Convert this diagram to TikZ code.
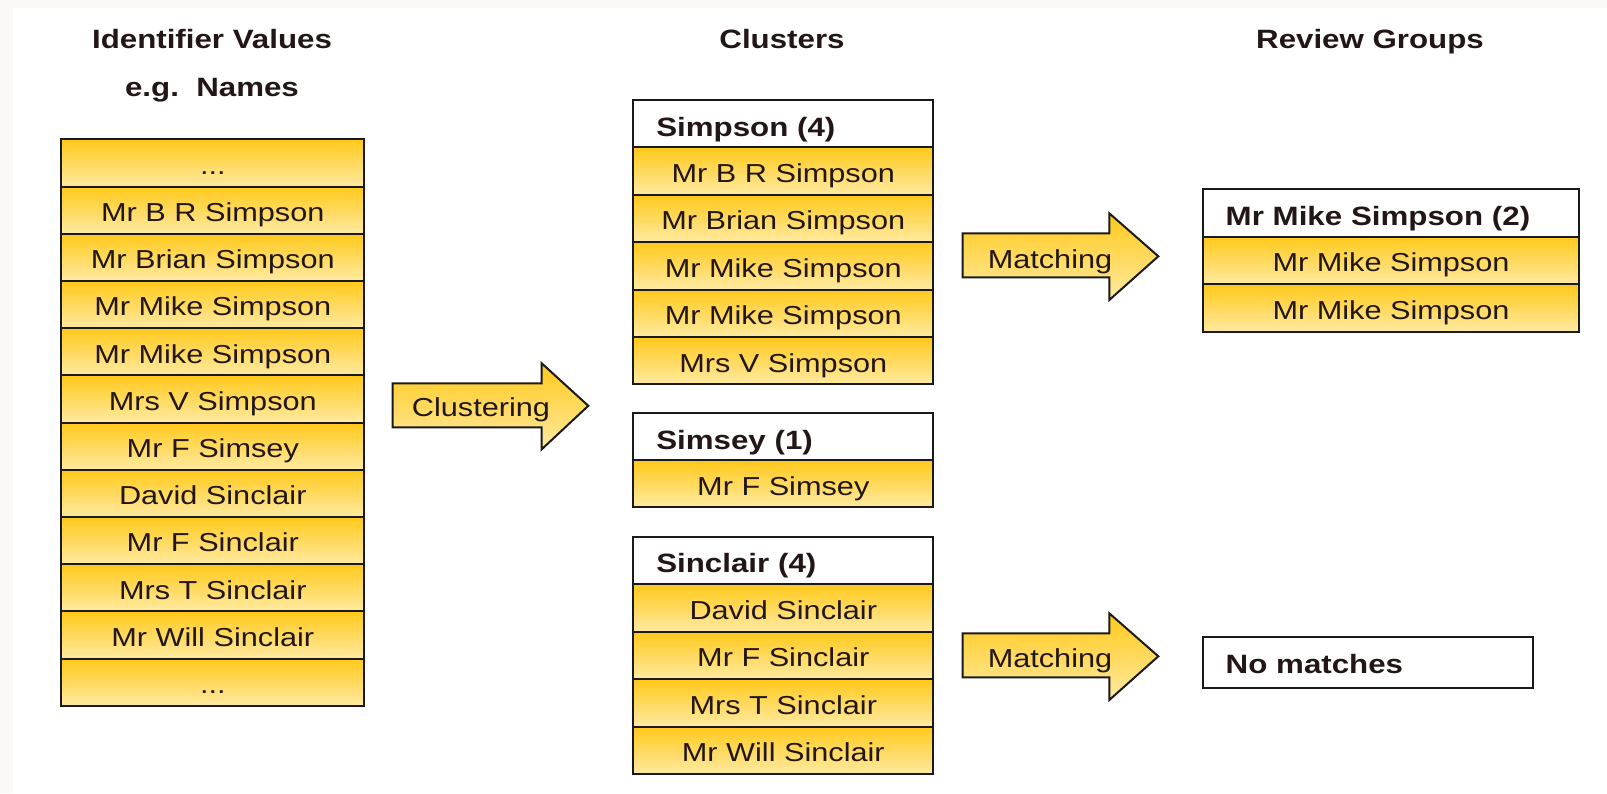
\documentclass[tikz,border=0pt]{standalone}
\usepackage{fontspec}
\setmainfont[FakeStretch=1.18]{Liberation Sans}
\definecolor{gtop}{HTML}{FFC91A}
\definecolor{gbot}{HTML}{FFEAA2}
\definecolor{edge}{HTML}{1A1A1A}
\definecolor{ink}{HTML}{231616}
\definecolor{bgstrip}{HTML}{FAF9F7}
\newcommand\rfont{\fontsize{26}{30}\selectfont}
\newcommand\bfont{\fontsize{26.5}{30}\selectfont\bfseries}
\begin{document}
\begin{tikzpicture}[x=1pt,y=-1pt,
  cell/.style={draw=edge,line width=2pt,top color=gtop,bottom color=gbot,inner sep=0pt,text height=22.6pt,text depth=0pt,font=\rfont,text=ink},
  head/.style={draw=edge,line width=2pt,fill=white,inner ysep=0pt,inner xsep=23pt,text height=24.6pt,text depth=0pt,align=left,font=\bfont,text=ink},
  title/.style={font=\bfont,text=ink,anchor=base},
  arr/.style={draw=edge,line width=2pt,top color=gtop,bottom color=gbot,line join=miter},
  lab/.style={font=\rfont,text=ink,anchor=base},
  colL/.style={cell,minimum width=303pt,minimum height=47.2pt},
  colC/.style={cell,minimum width=300pt,minimum height=47.4pt},
  colR/.style={cell,minimum width=376.6pt,minimum height=47.5pt}]
\useasboundingbox (0,0) rectangle (1607,793);
\fill[white] (0,0) rectangle (1607,793);
\fill[bgstrip] (0,0) rectangle (1607,7.5);
\fill[bgstrip] (0,0) rectangle (12.7,793);

% titles
\node[title] (t1) at (212,48) {Identifier Values};
\node[title] (t2) at (212,96) {e.g.\ \ Names};
\node[title] (t3) at (782,48) {Clusters};
\node[title] (t4) at (1370,48) {Review Groups};

% left column
\node[colL] (L0) at (212.8,162.9) {...};
\node[colL] (L1) at (212.8,210.1) {Mr B R Simpson};
\node[colL] (L2) at (212.8,257.3) {Mr Brian Simpson};
\node[colL] (L3) at (212.8,304.5) {Mr Mike Simpson};
\node[colL] (L4) at (212.8,351.7) {Mr Mike Simpson};
\node[colL] (L5) at (212.8,398.9) {Mrs V Simpson};
\node[colL] (L6) at (212.8,446.1) {Mr F Simsey};
\node[colL] (L7) at (212.8,493.3) {David Sinclair};
\node[colL] (L8) at (212.8,540.5) {Mr F Sinclair};
\node[colL] (L9) at (212.8,587.7) {Mrs T Sinclair};
\node[colL] (L10) at (212.8,634.9) {Mr Will Sinclair};
\node[colL] (L11) at (212.8,682.1) {...};

% Simpson cluster
\node[head,text width=254pt,minimum height=47.4pt] (S0) at (783.3,123.7) {Simpson (4)};
\node[colC] (S1) at (783.3,171.1) {Mr B R Simpson};
\node[colC] (S2) at (783.3,218.5) {Mr Brian Simpson};
\node[colC] (S3) at (783.3,265.9) {Mr Mike Simpson};
\node[colC] (S4) at (783.3,313.3) {Mr Mike Simpson};
\node[colC] (S5) at (783.3,360.7) {Mrs V Simpson};

% Simsey cluster
\node[head,text width=254pt,minimum height=47pt] (Y0) at (783.3,436.8) {Simsey (1)};
\node[colC,minimum height=47pt] (Y1) at (783.3,483.8) {Mr F Simsey};

% Sinclair cluster
\node[head,text width=254pt,minimum height=47.46pt] (N0) at (783.3,560.4) {Sinclair (4)};
\node[colC,minimum height=47.46pt] (N1) at (783.3,607.9) {David Sinclair};
\node[colC,minimum height=47.46pt] (N2) at (783.3,655.4) {Mr F Sinclair};
\node[colC,minimum height=47.46pt] (N3) at (783.3,702.8) {Mrs T Sinclair};
\node[colC,minimum height=47.46pt] (N4) at (783.3,750.3) {Mr Will Sinclair};

% review groups
\node[head,text width=330.6pt,minimum height=47.5pt] (R0) at (1391,213.05) {Mr Mike Simpson (2)};
\node[colR] (R1) at (1391,260.55) {Mr Mike Simpson};
\node[colR] (R2) at (1391,308.05) {Mr Mike Simpson};
\node[head,text width=284.6pt,minimum height=51pt,text height=21.6pt] (R3) at (1368,662.8) {No matches};

% arrows
\draw[arr] (392.7,383.3) -- (541.7,383.3) -- (541.7,363.3) -- (588.3,405.8) -- (541.7,449.3) -- (541.7,427.3) -- (392.7,427.3) -- cycle;
\node[lab] (a1) at (481,416.5) {Clustering};
\draw[arr] (962.7,233.3) -- (1109.3,233.3) -- (1109.3,213.3) -- (1158.3,256.3) -- (1109.3,300) -- (1109.3,277.3) -- (962.7,277.3) -- cycle;
\node[lab] (a2) at (1050,268.5) {Matching};
\draw[arr] (962.7,633.3) -- (1109.3,633.3) -- (1109.3,613.3) -- (1158.3,656.3) -- (1109.3,700) -- (1109.3,677.3) -- (962.7,677.3) -- cycle;
\node[lab] (a3) at (1050,667) {Matching};
\end{tikzpicture}
\end{document}
